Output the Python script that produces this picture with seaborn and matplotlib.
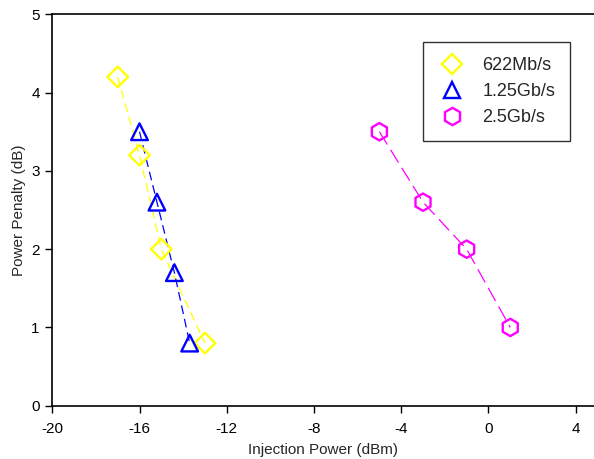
import matplotlib
matplotlib.use("Agg")
import matplotlib.pyplot as plt
from matplotlib.lines import Line2D
import seaborn as sns
import pandas as pd

# Injection power (dBm) and power penalty (dB) per bit rate
power_622m = [-17.0, -16.0, -15.0, -13.0]
penalty_622m = [4.2, 3.2, 2.0, 0.8]

power_125g = [-16.0, -15.2, -14.4, -13.7]
penalty_125g = [3.5, 2.6, 1.7, 0.8]

power_25g = [-5.0, -3.0, -1.0, 1.0]
penalty_25g = [3.5, 2.6, 2.0, 1.0]

series_names = ["622Mb/s", "1.25Gb/s", "2.5Gb/s"]
x_ticks = [-20, -16, -12, -8, -4, 0, 4]
y_ticks = [0, 1, 2, 3, 4, 5]

sns.set_theme(style="ticks")
plt.rcParams["font.family"] = ["Liberation Sans", "DejaVu Sans"]

fig = plt.figure(figsize=(5.94, 4.59), dpi=100)
# plot frame runs off the right edge of the figure
ax = fig.add_axes([0.0880, 0.1161, 0.9120, 0.8527])

styles = [
    dict(color="#FFFF00", marker="D", ms=10.5, dashes=(7, 4)),
    dict(color="#0000FF", marker="^", ms=12, dashes=(7, 4)),
    dict(color="#FF00FF", marker="h", ms=12.5, dashes=(12, 5)),
]
data = [(power_622m, penalty_622m), (power_125g, penalty_125g), (power_25g, penalty_25g)]

handles = []
for name, (xs, ys), st in zip(series_names, data, styles):
    df = pd.DataFrame({"x": xs, "y": ys})
    sns.lineplot(data=df, x="x", y="y", ax=ax, color=st["color"], lw=0.9,
                 sort=False, legend=False)
    ax.lines[-1].set_dashes(st["dashes"])
    sns.scatterplot(data=df, x="x", y="y", ax=ax, marker=st["marker"],
                    s=st["ms"] ** 2, facecolor="none", edgecolor=st["color"],
                    linewidth=1.7, legend=False, zorder=3)
    handles.append(Line2D([], [], linestyle="none", marker=st["marker"],
                          markersize=st["ms"], markerfacecolor="none",
                          markeredgecolor=st["color"], markeredgewidth=1.7,
                          label=name))

ax.set_xlim(-20, 4.84)
ax.set_ylim(0, 5)
ax.set_xticks(x_ticks)
ax.set_yticks(y_ticks)
ax.set_xticklabels([str(t) for t in x_ticks])
ax.set_yticklabels([str(t) for t in y_ticks])
ax.tick_params(axis="both", labelsize=11, length=5, width=1, colors="black",
               direction="out", pad=4)
ax.tick_params(axis="x", pad=7)
ax.spines["right"].set_visible(False)
for side in ("left", "bottom", "top"):
    ax.spines[side].set_color("black")
    ax.spines[side].set_linewidth(1.2)

ax.set_xlabel("Injection Power (dBm)", fontsize=11, labelpad=5)
ax.set_ylabel("Power Penalty (dB)", fontsize=11, labelpad=4)

leg = ax.legend(handles=handles, loc="upper right", bbox_to_anchor=(0.9557, 0.929),
                borderaxespad=0, fontsize=13, frameon=True, fancybox=False,
                edgecolor="black", handlelength=1.64, handletextpad=0.84,
                labelspacing=0.5, borderpad=0.82)
leg.get_frame().set_linewidth(1.0)

fig.savefig("out.png", dpi=100)
